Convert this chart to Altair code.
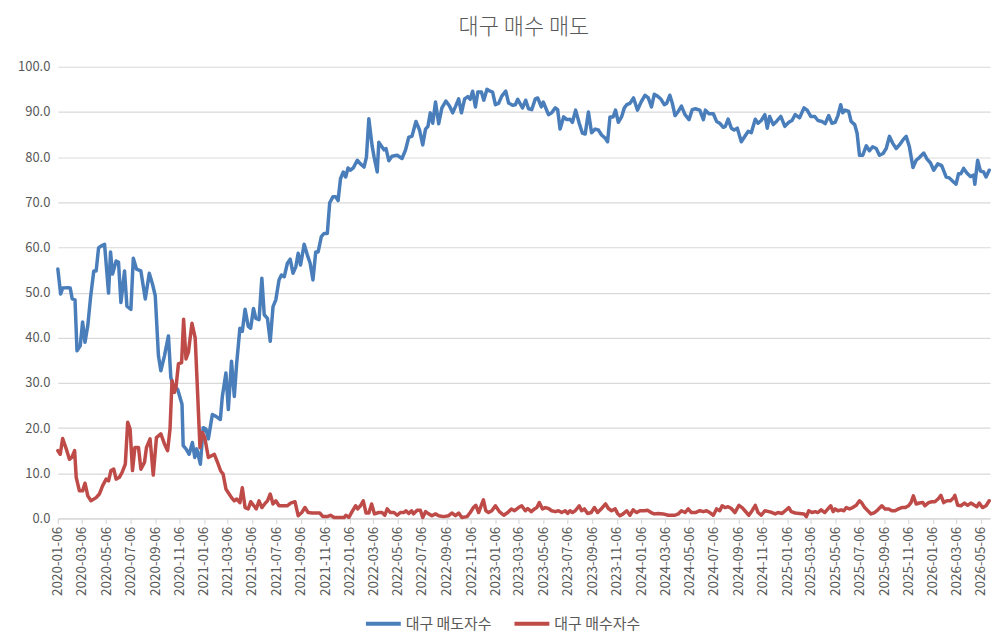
import altair as alt
import pandas as pd

# days since 2020-01-06 and values
blue_days = [0, 7, 12, 25, 31, 36, 43, 48, 56, 62, 68, 75, 82, 90, 96, 102, 108, 117, 127, 132,
             137, 146, 152, 158, 162, 167, 173, 183, 189, 197, 208, 219, 229, 237, 244, 252, 258, 267, 277, 283,
             289, 300, 311, 314, 321, 329, 337, 343, 348, 357, 364, 371, 377,
             387, 396, 407, 412, 421, 427, 435, 442, 448, 456, 462, 469, 477, 483, 490, 496, 504, 511,
             517, 525, 532, 539, 546, 554, 560, 567, 575, 582, 589, 596, 602, 608, 617, 625, 632, 639,
             646, 652, 660, 667, 675, 681, 689, 696, 702, 708, 715, 721, 727, 733, 740, 750, 758, 767,
             773, 779, 787, 792, 800, 804,
             817, 822, 829, 837, 850, 862, 871, 879, 887, 897, 906, 914, 921, 927, 933, 939, 946, 954,
             962, 972, 981, 989, 997, 1004, 1011, 1019, 1027, 1033, 1039, 1046, 1052, 1061, 1067, 1075,
             1083, 1089, 1096, 1104, 1112, 1122, 1129, 1139, 1146, 1152, 1164, 1172, 1179, 1187, 1196,
             1202, 1211, 1216, 1229, 1237, 1246, 1252, 1258, 1267, 1275, 1283, 1289, 1297, 1306, 1314,
             1321, 1329, 1337, 1346, 1354, 1362, 1371, 1377, 1383, 1391, 1397, 1404, 1412, 1419, 1425,
             1433, 1442, 1452, 1461, 1471, 1479, 1487, 1494, 1502, 1511, 1519, 1525, 1533, 1539, 1546,
             1554,
             1562, 1571, 1581, 1589, 1597, 1608, 1617, 1622, 1631, 1642, 1650, 1658, 1667, 1672, 1679,
             1687, 1694, 1702, 1712, 1721, 1729, 1737, 1747, 1754, 1762, 1771, 1777, 1783, 1792, 1800,
             1811, 1821, 1831, 1839, 1847, 1858, 1869, 1877, 1886, 1896, 1904, 1914, 1922, 1931, 1939,
             1947, 1954, 1961, 1966, 1972, 1981, 1987, 1996, 2002, 2008, 2016, 2025, 2033, 2041, 2050,
             2058, 2067, 2075, 2083, 2091, 2100, 2108, 2117, 2125, 2133, 2142, 2150, 2158, 2169, 2177,
             2186, 2194, 2204, 2214, 2225, 2233, 2241, 2250, 2256, 2262, 2269, 2277, 2286, 2294, 2297,
             2304, 2311, 2319, 2325, 2333]
blue_vals = [55.2, 49.7, 51.0, 51.1, 51.0, 48.6, 48.4, 37.1, 38.2, 43.5, 39.0, 42.7, 49.0, 54.8, 54.8, 59.9, 60.3, 60.7, 49.9, 59.0,
             54.1, 57.0, 56.7, 47.8, 50.8, 54.8, 47.0, 46.3, 57.6, 55.2, 54.8, 48.6, 54.3, 51.9, 49.3, 36.0, 32.7, 36.0, 40.4, 31.2,
             29.4, 28.6, 25.3, 16.1, 15.4, 14.2, 16.8, 13.5, 15.4, 12.0, 20.1, 19.8, 17.6,
             23.0, 22.6, 21.9, 27.0, 32.2, 24.1, 34.8, 27.0, 34.4, 42.1, 41.4, 46.3, 42.5, 42.1, 46.5, 44.3, 44.0, 53.2,
             45.1, 44.3, 39.2, 46.9, 48.4, 52.8, 53.9, 53.5, 56.5, 57.4, 54.3, 55.7, 58.7, 56.1, 60.7, 58.3, 56.5, 52.8,
             59.0, 59.0, 62.4, 63.1, 63.1, 69.9, 71.2, 71.2, 70.4, 75.2, 76.7, 75.6, 77.6, 77.1, 77.6, 79.3, 78.5, 77.8,
             80.0, 88.5, 82.6, 80.1, 76.7, 83.3,
             81.6, 81.9, 79.2, 80.2, 80.4, 79.7, 81.6, 84.4, 84.6, 87.9, 86.0, 82.7, 86.2, 86.8, 89.8, 87.5, 92.2, 87.4,
             90.9, 92.4, 91.3, 89.8, 91.4, 92.9, 89.8, 92.9, 93.4, 92.8, 94.6, 91.1, 94.4, 94.4, 92.6, 95.0,
             94.6, 94.4, 91.6, 91.9, 93.5, 94.6, 92.0, 91.5, 91.6, 92.8, 90.9, 92.6, 90.7, 90.5, 92.9,
             93.1, 91.1, 92.2, 89.4, 89.8, 90.9, 90.5, 86.2, 88.9, 88.3, 88.4, 87.7, 90.4, 87.5, 85.3,
             85.1, 90.0, 85.4, 86.2, 86.0, 84.9, 84.2, 83.4, 88.9, 88.9, 90.4, 87.7, 88.9, 90.9, 91.6,
             91.9, 93.1, 90.4, 92.2, 93.7, 93.1, 91.1, 93.9, 93.5, 92.8, 91.6, 91.9, 93.7, 92.0, 89.2,
             90.1,
             91.3, 89.4, 88.3, 90.5, 90.7, 90.4, 88.3, 90.4, 89.6, 89.6, 87.9, 87.5, 86.6, 86.8, 88.4,
             86.4, 86.0, 86.4, 83.4, 84.6, 85.7, 85.4, 88.4, 87.5, 88.1, 89.4, 86.4, 89.0, 87.2, 87.9,
             89.0, 86.8, 87.7, 88.1, 89.4, 88.7, 90.9, 90.4, 89.0, 89.0, 88.1, 87.9, 87.4, 89.2, 87.5,
             87.7, 89.2, 91.6, 89.8, 90.4, 90.1, 87.9, 87.2, 85.3, 80.4, 80.4, 82.5, 81.4, 82.3, 81.9,
             80.4, 80.8, 81.9, 84.6, 83.1, 81.9, 82.7, 83.8, 84.6, 82.3, 77.7, 79.3, 79.9, 80.9, 79.6,
             78.7, 77.1, 78.5, 78.1, 75.6, 75.4, 74.7, 74.0, 76.3, 76.3, 77.5, 76.5, 75.7, 76.0, 74.0,
             79.3, 76.9, 76.7, 75.6, 77.1]

red_days = [0, 6, 12, 21, 29, 35, 42, 46, 54, 62, 68, 75, 83, 96, 104, 112, 121, 127, 133, 140,
            146, 154, 161, 169, 175, 181, 187, 193, 202, 208, 217, 222, 231, 239, 247, 258, 267, 275, 281, 286,
            292, 296, 302, 310, 315, 321, 327, 336, 344, 350, 356, 362, 368, 377,
            392, 400, 408, 414, 421, 427, 435, 442, 448, 456, 462, 469, 477, 483, 491, 497, 504, 511,
            518, 525, 532, 539, 546, 554, 567, 575, 583, 594, 602, 611, 619, 627, 637, 646, 656, 664,
            675, 683, 692, 704, 717, 722, 729, 737, 746, 751, 758, 765, 772, 779, 786, 793, 804,
            812, 819, 825, 833, 842, 850, 858, 867, 872, 879, 886, 891, 900, 908, 914, 921, 929, 937,
            946, 954, 966, 979, 987, 996, 1004, 1012, 1025, 1033, 1041, 1047, 1054, 1062, 1066, 1072,
            1079, 1087, 1096, 1106, 1117, 1127, 1136, 1144, 1154, 1162, 1171, 1177, 1186, 1194, 1200,
            1206, 1214, 1221, 1229, 1237, 1246, 1254, 1262, 1271, 1277, 1283, 1289, 1296, 1306, 1312,
            1319, 1327, 1336, 1344, 1352, 1362, 1372, 1379, 1387, 1396, 1402, 1408, 1416, 1425, 1433,
            1441, 1450, 1458, 1469, 1477, 1486, 1494, 1504, 1516, 1529, 1546,
            1554, 1562, 1571, 1579, 1587, 1597, 1608, 1617, 1625, 1633, 1642, 1650, 1658, 1664, 1671,
            1679, 1687, 1696, 1706, 1714, 1721, 1731, 1739, 1747, 1754, 1762, 1771, 1781, 1789, 1797,
            1804, 1814, 1822, 1831, 1837, 1847, 1858, 1869, 1875, 1881, 1889, 1897, 1904, 1912, 1921,
            1929, 1936, 1942, 1947, 1954, 1962, 1969, 1975, 1983, 1991, 2000, 2008, 2014, 2021, 2029,
            2037, 2046, 2054, 2064, 2072, 2081, 2089, 2097, 2106, 2114, 2122, 2131, 2137, 2143, 2150,
            2158, 2167, 2172, 2181, 2189, 2197, 2206, 2212, 2219, 2227, 2236, 2244, 2247, 2254, 2262,
            2271, 2279, 2287, 2296, 2302, 2308, 2316, 2325, 2333]
red_vals = [15.0, 14.2, 17.7, 15.4, 13.1, 13.5, 15.0, 9.1, 6.1, 6.1, 7.8, 5.0, 3.9, 4.6, 5.4, 7.2, 8.7, 8.3, 10.6, 10.9,
            8.7, 9.1, 10.2, 12.0, 21.3, 19.8, 10.6, 15.7, 15.7, 10.9, 12.4, 15.7, 17.6, 9.6, 17.9, 18.7, 16.5, 15.0, 19.8, 30.5,
            27.9, 29.0, 34.2, 34.5, 44.1, 35.3, 36.8, 43.2, 40.0, 27.9, 15.7, 19.0, 17.9, 13.5,
            14.2, 12.4, 10.5, 9.8, 6.5, 5.7, 4.6, 3.9, 4.3, 3.5, 6.8, 2.4, 2.1, 3.7, 2.8, 2.1, 3.9, 2.4,
            3.2, 3.9, 5.4, 3.2, 3.9, 2.8, 2.8, 2.8, 3.4, 3.7, 0.6, 1.3, 2.4, 1.3, 1.2, 1.2, 1.2, 0.4,
            0.4, 0.7, 0.2, 0.2, 0.2, 0.7, 0.2, 1.5, 2.8, 2.1, 2.8, 3.9, 1.2, 1.2, 3.2, 1.0, 1.3,
            1.3, 0.7, 2.1, 1.3, 1.3, 0.7, 1.3, 1.3, 1.7, 1.1, 1.7, 1.0, 1.8, 1.8, 0.2, 1.5, 1.0, 0.6,
            1.0, 0.6, 0.4, 0.6, 1.2, 0.6, 1.2, 0.2, 0.4, 1.3, 2.4, 2.9, 1.3, 3.2, 4.1, 1.7,
            1.3, 1.7, 2.8, 1.5, 0.7, 1.3, 2.1, 1.7, 2.4, 2.8, 1.7, 2.2, 1.5, 2.1, 2.4,
            3.5, 2.1, 2.4, 2.2, 1.7, 1.5, 1.7, 1.3, 1.7, 1.1, 1.7, 1.3, 1.7, 2.8, 1.7,
            2.1, 1.1, 1.3, 2.4, 1.3, 2.2, 3.2, 2.2, 1.7, 2.1, 1.1, 0.6, 1.0, 1.7, 0.7,
            1.9, 1.3, 1.7, 1.7, 1.8, 1.3, 1.0, 1.1, 1.0, 0.7, 0.7,
            1.0, 1.7, 1.3, 2.1, 1.3, 1.3, 1.7, 1.5, 1.7, 1.3, 0.7, 2.1, 1.7, 2.8, 2.4,
            2.6, 2.2, 1.3, 2.9, 2.4, 1.7, 0.7, 1.7, 2.9, 1.3, 0.7, 1.7, 1.5, 1.3, 1.0,
            1.3, 1.1, 1.7, 2.4, 1.5, 1.2, 1.1, 1.0, 0.4, 1.7, 1.3, 1.5, 1.3, 1.9, 1.3,
            2.1, 2.8, 1.5, 2.1, 1.7, 1.9, 1.7, 2.4, 2.1, 2.4, 2.9, 3.9, 3.4, 2.4, 1.7,
            1.0, 1.3, 1.9, 2.8, 2.1, 2.1, 1.7, 1.7, 2.1, 2.4, 2.4, 2.8, 3.5, 5.0, 3.2,
            3.4, 3.5, 2.8, 3.5, 3.7, 3.7, 4.4, 5.1, 3.5, 3.9, 3.9, 4.6, 5.1, 2.9, 2.8,
            3.4, 2.9, 3.4, 2.9, 2.6, 3.4, 2.4, 2.8, 3.9]

series_names = ["대구 매도자수", "대구 매수자수"]
series_colors = ["#4a7ebb", "#be4b48"]
title_text = "대구 매수 매도"

start = pd.Timestamp("2020-01-06")


def to_dates(days):
    return [(start + pd.Timedelta(days=d)).strftime("%Y-%m-%d") for d in days]


df = pd.concat([
    pd.DataFrame({"date": to_dates(blue_days), "value": blue_vals, "series": series_names[0]}),
    pd.DataFrame({"date": to_dates(red_days), "value": red_vals, "series": series_names[1]}),
], ignore_index=True)

tick_dates = []
for y in range(2020, 2027):
    for m in range(1, 13, 2):
        if y == 2026 and m > 5:
            break
        tick_dates.append(alt.DateTime(year=y, month=m, date=6, utc=True))

FONT = "Noto Sans CJK KR"
GRAY = "#595959"

chart = alt.Chart(df).mark_line(strokeWidth=3.5, strokeJoin="round", strokeCap="round").encode(
    x=alt.X("date:T",
            scale=alt.Scale(type="utc",
                            domain=[alt.DateTime(year=2020, month=1, date=6, utc=True),
                                    alt.DateTime(year=2026, month=5, date=29, utc=True)]),
            axis=alt.Axis(values=tick_dates, labelExpr="utcFormat(datum.value, '%Y-%m-%d')", title=None,
                          labelAngle=270, labelFontSize=13.5, labelColor=GRAY, labelFont=FONT,
                          grid=False, domainColor="#d9d9d9", domainWidth=1.2,
                          tickColor="#d9d9d9", tickSize=5, tickWidth=1.2, labelPadding=3,
                          labelOverlap=False, labelFlush=False)),
    y=alt.Y("value:Q",
            scale=alt.Scale(domain=[0, 100], nice=False),
            axis=alt.Axis(values=list(range(0, 101, 10)), format=".1f", title=None,
                          labelFontSize=13, labelColor=GRAY, labelFont=FONT, labelPadding=8,
                          domain=False, ticks=False, gridColor="#d9d9d9", gridWidth=1.2)),
    color=alt.Color("series:N",
                    scale=alt.Scale(domain=series_names, range=series_colors),
                    legend=alt.Legend(title=None, orient="none", legendX=307, legendY=539,
                                      direction="horizontal", symbolType="stroke",
                                      symbolStrokeWidth=4, symbolSize=1225, labelFontSize=15,
                                      labelColor=GRAY, labelFont=FONT, labelOffset=3,
                                      columnPadding=14)),
).properties(
    width=935,
    height=453,
    title=alt.TitleParams(title_text, fontSize=22, font=FONT, color=GRAY, fontWeight=300,
                          anchor="middle", offset=22),
    padding={"left": 9, "top": 7, "right": 5, "bottom": 5},
).configure_view(stroke=None)

chart.save("out.html", embed_options={"renderer": "svg", "actions": False})
